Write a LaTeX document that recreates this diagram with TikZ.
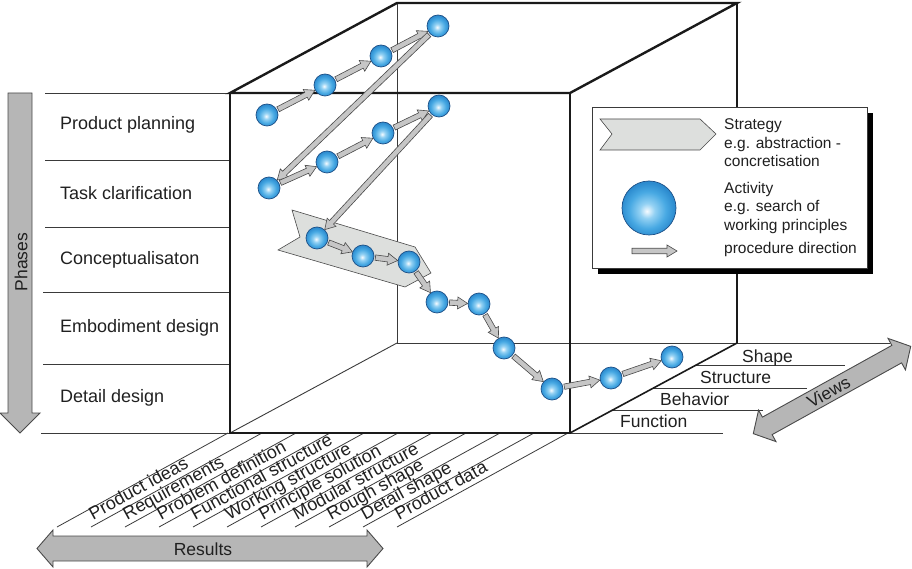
\documentclass[tikz,border=0pt]{standalone}
\usepackage{fontspec}
\setmainfont{Liberation Sans}
\usetikzlibrary{calc}

\definecolor{ink}{HTML}{202020}
\definecolor{frame}{HTML}{1A1A1A}
\definecolor{thinline}{HTML}{3A3A3A}
\definecolor{arrowfill}{HTML}{C6C6C6}
\definecolor{arrowline}{HTML}{4A4A4A}
\definecolor{bandfill}{HTML}{DDDFDD}
\definecolor{ballhi}{HTML}{F6FBFF}
\definecolor{ballmid}{HTML}{93D1F3}
\definecolor{balllow}{HTML}{48A9E3}
\definecolor{balledge}{HTML}{2C8BCF}
\definecolor{ballrim}{HTML}{1C4F86}

% sphere-like fill for the activity balls
\pgfdeclareradialshading{activityshade}{\pgfpoint{-2bp}{-3bp}}{%
  color(0bp)=(ballhi); color(7bp)=(ballmid); color(17bp)=(balllow);
  color(25bp)=(balledge); color(50bp)=(balledge)}

\tikzset{
  activity/.style={circle, inner sep=0pt, minimum size=22pt,
    shading=activityshade, draw=ballrim, line width=0.7pt},
  flowarrow/.style={fill=arrowfill, draw=arrowline, line width=0.6pt, line join=miter},
  bigarrow/.style={fill=arrowfill!92!black, draw=arrowline, line width=0.9pt},
  band/.style={fill=bandfill, draw=arrowline, line width=0.6pt},
  gridline/.style={draw=thinline, line width=0.8pt},
  edgethick/.style={draw=frame, line width=2.4pt, line cap=round},
  edgemid/.style={draw=frame, line width=1.6pt, line cap=round},
  edgethin/.style={draw=thinline, line width=0.9pt},
  phaselabel/.style={anchor=base west, inner sep=0pt, text=ink,
    font=\fontsize{18}{20}\selectfont},
  viewlabel/.style={anchor=base west, inner sep=0pt, text=ink,
    font=\fontsize{17.5}{20}\selectfont},
  resultlabel/.style={anchor=base west, inner sep=0pt, text=ink, rotate=28.8,
    font=\fontsize{18}{20}\selectfont},
  legendtext/.style={anchor=north west, inner sep=0pt, align=left, text=ink,
    font=\fontsize{15.5}{18.5}\selectfont},
  axislabel/.style={inner sep=0pt, text=ink, font=\fontsize{17.5}{20}\selectfont},
}

% block arrow from node #1 to node #2, leaving gap #3 at the start and #4 at the end
\newcommand\linkarrow[4]{%
  \path let \p1=($(#2)-(#1)$) in \pgfextra{%
    \pgfmathsetmacro\lkang{atan2(\y1,\x1)}%
    \pgfmathsetmacro\lklen{veclen(\x1,\y1)}%
    \xdef\lkang{\lkang}\xdef\lklen{\lklen}};
  \begin{scope}[shift={(#1)}, rotate=\lkang, x=1pt, y=1pt]
    \pgfmathsetmacro\lka{#3}%
    \pgfmathsetmacro\lkb{\lklen-#4}%
    \pgfmathsetmacro\lkc{\lkb-10}%
    \draw[flowarrow] (\lka,-2.7) -- (\lkc,-2.7) -- (\lkc,-6) -- (\lkb,0)
      -- (\lkc,6) -- (\lkc,2.7) -- (\lka,2.7) -- cycle;
  \end{scope}}

\begin{document}
\begin{tikzpicture}[x=1pt, y=-1pt]
\useasboundingbox (0,0) rectangle (912,569);

% cube corners
\coordinate (ftl) at (230,93);  \coordinate (ftr) at (570,93);
\coordinate (fbl) at (230,433); \coordinate (fbr) at (570,433);
\coordinate (btl) at (397,3);   \coordinate (btr) at (737,3);
\coordinate (bbl) at (397,343); \coordinate (bbr) at (737,343);

% phase rows
\draw[gridline] (45,93) -- (ftl);
\draw[gridline] (45,160) -- (230,160);
\draw[gridline] (45,227) -- (230,227);
\draw[gridline] (43,292) -- (230,292);
\draw[gridline] (43,364) -- (230,364);
\draw[gridline] (41,433) -- (fbl);

\node[phaselabel] (ph1) at (60,130) {Product planning};
\node[phaselabel] (ph2) at (60,200) {Task clarification};
\node[phaselabel] (ph3) at (60,265) {Conceptualisaton};
\node[phaselabel] (ph4) at (60,332) {Embodiment design};
\node[phaselabel] (ph5) at (60,402) {Detail design};

% result slants
\foreach \i in {0,...,10} {
  \coordinate (rb\i) at (57+34*\i,527);
  \coordinate (rt\i) at (228+34*\i,433);
  \draw[gridline] (rb\i) -- (rt\i);
}
\foreach \lbl [count=\k] in {Product ideas, Requirements, Problem definition,
    Functional structure, Working structure, Principle solution,
    Modular structure, Rough shape, Detail shape, Product data} {
  \coordinate (rq\k) at ($(rb\k)!5pt!(rt\k)$);
  \node[resultlabel] (res\k) at ($(rq\k)!5pt!90:(rt\k)$) {\lbl};
}

% view levels
\coordinate (vl1) at ($(fbr)!0.25!(bbr)$);
\coordinate (vl2) at ($(fbr)!0.5!(bbr)$);
\coordinate (vl3) at ($(fbr)!0.75!(bbr)$);
\draw[gridline] (fbr) -- (723,433);
\draw[gridline] (vl1) -- (763,410.5);
\draw[gridline] (vl2) -- (807,388);
\draw[gridline] (vl3) -- (845,365.5);
\draw[gridline] (bbr) -- (890,343);

\node[viewlabel] (vw1) at (620,427) {Function};
\node[viewlabel] (vw2) at (660,405) {Behavior};
\node[viewlabel] (vw3) at (700,383) {Structure};
\node[viewlabel] (vw4) at (742,362) {Shape};

% cube: hidden edges
\draw[edgethin] (btl) -- (bbl) -- (bbr);
\draw[edgethin] (fbl) -- (bbl);
\draw[draw=frame, line width=1.2pt] (btr) -- (bbr);
% cube: visible edges
\draw[edgethick] (ftl) -- (btl) -- (btr) -- (ftr) -- cycle;
\draw[edgemid] (ftl) -- (fbl) -- (fbr) -- (ftr);
\draw[edgemid] (fbr) -- (bbr);

% legend
\fill[black] (598,113) rectangle (873,274);
\draw[fill=white, draw=thinline, line width=0.9pt] (592,107) rectangle (867,268);
\draw[band] (600,119) -- (700,119) -- (716,134) -- (700,150) -- (600,150) -- (612,134) -- cycle;
\node[legendtext] (lgstrat) at (724,118.6) {Strategy\\e.g. abstraction -\\concretisation};
\node[activity, minimum size=54pt] (lgball) at (649,208) {};
\node[legendtext] (lgact) at (724,181.6) {Activity\\e.g. search of\\working principles};
\coordinate (lga) at (632,251);
\coordinate (lgb) at (677,251);
\linkarrow{lga}{lgb}{0}{0}
\node[anchor=base west, inner sep=0pt, text=ink, font=\fontsize{15.5}{18.5}\selectfont]
  (lgdir) at (724,254) {procedure direction};

% strategy band inside the cube
\draw[band] (292,210) -- (415,247) -- (431,273) -- (405,287) -- (278,250) -- (300,237) -- cycle;

% activities
\node[activity] (s1)  at (267,115) {};
\node[activity] (s2)  at (325,85)  {};
\node[activity] (s3)  at (381,56)  {};
\node[activity] (s4)  at (438,26)  {};
\node[activity] (s5)  at (269,188) {};
\node[activity] (s6)  at (327,162) {};
\node[activity] (s7)  at (383,133) {};
\node[activity] (s8)  at (439,106) {};
\node[activity] (s9)  at (317,238) {};
\node[activity] (s10) at (363,256) {};
\node[activity] (s11) at (409,262) {};
\node[activity] (s12) at (437,302) {};
\node[activity] (s13) at (479,304) {};
\node[activity] (s14) at (504,348) {};
\node[activity] (s15) at (552,389) {};
\node[activity] (s16) at (611,378) {};
\node[activity] (s17) at (672,357) {};

% procedure path
\foreach \a/\b in {s1/s2, s2/s3, s3/s4, s4/s5, s5/s6, s6/s7, s7/s8, s8/s9,
    s9/s10, s10/s11, s11/s12, s12/s13, s13/s14, s14/s15, s15/s16, s16/s17} {
  \linkarrow{\a}{\b}{12.5}{11.4}
}

% phases axis
\draw[bigarrow] (8,93) -- (32,93) -- (32,413) -- (40,413) -- (20,433) -- (0,413) -- (8,413) -- cycle;
\node[axislabel, rotate=90] (phases) at (21,262) {Phases};

% results axis
\draw[bigarrow] (37,548.5) -- (53,530) -- (53,536) -- (367,536) -- (367,530) -- (383,548.5)
  -- (367,567) -- (367,561) -- (53,561) -- (53,567) -- cycle;
\node[axislabel] (results) at (203,549) {Results};

% views axis
\coordinate (vc) at (832,390);
\begin{scope}[shift={(vc)}, rotate=29, x=1pt, y=1pt]
  \draw[bigarrow] (-90,0) -- (-74,18) -- (-74,10) -- (74,10) -- (74,18) -- (90,0)
    -- (74,-18) -- (74,-10) -- (-74,-10) -- (-74,-18) -- cycle;
  \node[axislabel, rotate=29] (views) at (-4,0) {Views};
\end{scope}
\end{tikzpicture}
\end{document}
